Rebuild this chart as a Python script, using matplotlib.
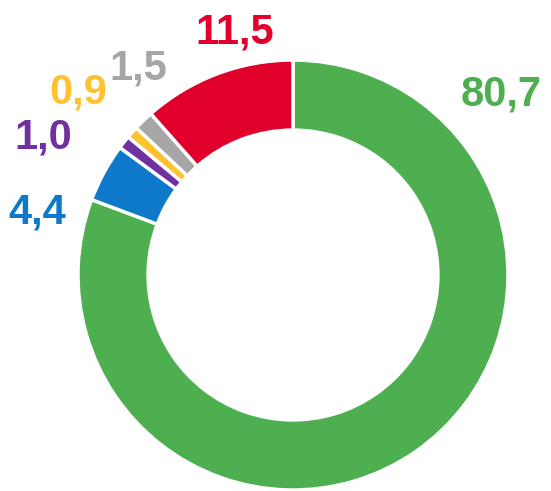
import matplotlib
matplotlib.use("Agg")
import matplotlib.pyplot as plt

# Share values, clockwise from the top
values = [80.7, 4.4, 1.0, 0.9, 1.5, 11.5]
labels = ["80,7", "4,4", "1,0", "0,9", "1,5", "11,5"]
colors = ["#4EAF51", "#0E78C9", "#7030A0", "#FFC12E", "#A6A6A6", "#E1002B"]

# label positions in axes data units (pie radius = 1)
label_pos = [(0.97, 0.84), (-1.19, 0.29), (-1.16, 0.64),
             (-1.00, 0.85), (-0.72, 0.96), (-0.27, 1.13)]

plt.rcParams['font.family'] = ['Liberation Sans', 'DejaVu Sans']

fig = plt.figure(figsize=(5.51, 4.91), dpi=100)
ax = fig.add_axes([78 / 551, 1 / 491, 430 / 551, 430 / 491])

ax.pie(values, colors=colors, startangle=90, counterclock=False,
       radius=1.0,
       wedgeprops=dict(width=0.326, edgecolor="white", linewidth=2.5))

for txt, (x, y), c in zip(labels, label_pos, colors):
    ax.text(x, y, txt, color=c, fontsize=30, fontweight="bold",
            ha="center", va="center", clip_on=False)

ax.set_xlim(-1, 1)
ax.set_ylim(-1, 1)
ax.set_aspect("equal")
ax.axis("off")

fig.savefig("out.png", dpi=100)
